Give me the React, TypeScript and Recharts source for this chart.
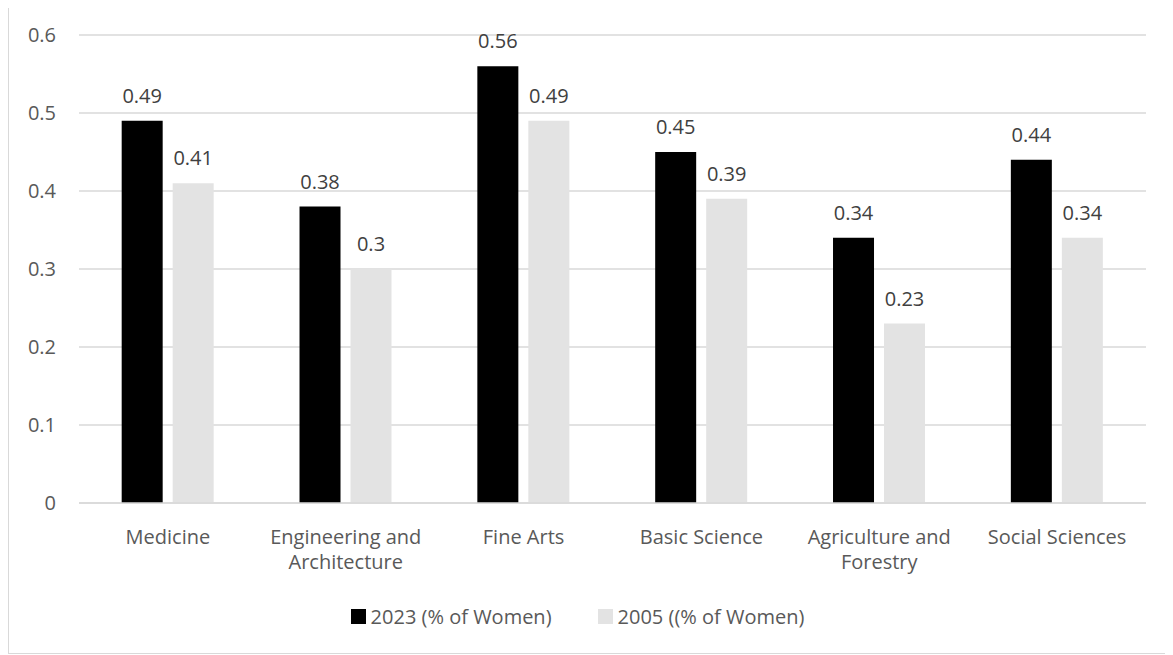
import React from 'react';
import { BarChart, Bar, XAxis, YAxis, CartesianGrid, Legend, LabelList } from 'recharts';

const CATEGORIES = ['Medicine', 'Engineering and Architecture', 'Fine Arts', 'Basic Science', 'Agriculture and Forestry', 'Social Sciences'];
// how each category label is broken in the original
const CATEGORY_LINES = [
  ['Medicine'],
  ['Engineering and', 'Architecture'],
  ['Fine Arts'],
  ['Basic Science'],
  ['Agriculture and', 'Forestry'],
  ['Social Sciences'],
];
const WOMEN_2023 = [0.49, 0.38, 0.56, 0.45, 0.34, 0.44];
const WOMEN_2005 = [0.41, 0.3, 0.49, 0.39, 0.23, 0.34];
const Y_TICKS = [0, 0.1, 0.2, 0.3, 0.4, 0.5, 0.6];
const SERIES = [
  { key: 'w2023', name: '2023 (% of Women)', color: '#000000' },
  { key: 'w2005', name: '2005 ((% of Women)', color: '#e3e3e3' },
];

const FONT = '"Open Sans", "Noto Sans", sans-serif';
const TEXT_COLOR = '#595959';
const FONT_SIZE = 20;

const data = CATEGORIES.map((name, i) => ({
  name,
  w2023: WOMEN_2023[i],
  w2005: WOMEN_2005[i],
}));

const CategoryTick = (props: any) => {
  const { x, y, payload } = props;
  const lines = CATEGORY_LINES[CATEGORIES.indexOf(payload.value)] || [payload.value];
  return (
    <text x={x} y={y + 33} textAnchor="middle" fill={TEXT_COLOR} fontSize={FONT_SIZE} fontFamily={FONT}>
      {lines.map((l, i) => (
        <tspan key={i} x={x} dy={i === 0 ? 0 : 25}>{l}</tspan>
      ))}
    </text>
  );
};

// legend kept in series order
const LegendContent = () => (
  <div style={{ display: 'flex', justifyContent: 'center', gap: 46, fontFamily: FONT, fontSize: FONT_SIZE, color: TEXT_COLOR }}>
    {SERIES.map(s => (
      <div key={s.key} style={{ display: 'flex', alignItems: 'center' }}>
        <span style={{ width: 15, height: 15, background: s.color, marginRight: 5, display: 'inline-block' }} />
        <span>{s.name}</span>
      </div>
    ))}
  </div>
);

export default function App() {
  return (
    <div style={{ marginTop: -3 }}>
      <div style={{ width: 1163, height: 649, border: '1px solid #d9d9d9', boxSizing: 'border-box', background: '#fff' }}>
        <BarChart
          width={1161}
          height={647}
          data={data}
          margin={{ top: 29, right: 24, bottom: 14, left: 0 }}
          barCategoryGap="24%"
          barGap={10}
        >
          <CartesianGrid vertical={false} stroke="#d9d9d9" strokeWidth={1.5} />
          <XAxis
            dataKey="name"
            axisLine={{ stroke: '#d9d9d9', strokeWidth: 1.5 }}
            tickLine={false}
            interval={0}
            height={100}
            tick={<CategoryTick />}
          />
          <YAxis
            domain={[0, 0.6]}
            ticks={Y_TICKS}
            width={70}
            axisLine={false}
            tickLine={false}
            tickMargin={17}
            tick={{ fill: TEXT_COLOR, fontSize: FONT_SIZE, fontFamily: FONT }}
          />
          <Legend verticalAlign="bottom" height={36} content={<LegendContent />} />
          {SERIES.map(s => (
            <Bar key={s.key} dataKey={s.key} name={s.name} fill={s.color} isAnimationActive={false}>
              <LabelList dataKey={s.key} position="top" offset={18} fill="#404040" fontSize={FONT_SIZE} fontFamily={FONT} />
            </Bar>
          ))}
        </BarChart>
      </div>
    </div>
  );
}
